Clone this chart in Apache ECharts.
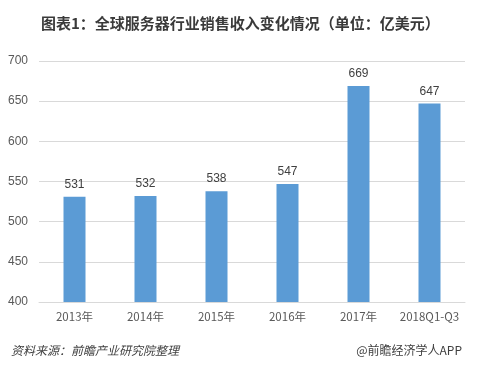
<!DOCTYPE html>
<html><head><meta charset="utf-8">
<script src="https://cdn.jsdelivr.net/npm/echarts@6/dist/echarts.min.js"></script>
<style>html,body{margin:0;padding:0;background:#fff}#c{width:477px;height:365px}</style>
</head><body><div id="c"></div>
<script>
const categories = ['2013年','2014年','2015年','2016年','2017年','2018Q1-Q3'];
const revenue = [531, 532, 538, 547, 669, 647];
const yTicks = [400, 450, 500, 550, 600, 650, 700];

const chart = echarts.init(document.getElementById('c'), null, {renderer:'canvas'});
chart.setOption({
  animation:false,
  backgroundColor:'#fff',
  title:[{
    text:'图表1：全球服务器行业销售收入变化情况（单位：亿美元）',
    left:36, top:11,
    textStyle:{fontSize:15, fontWeight:'bold', color:'#3a3a3a', fontFamily:'Noto Sans CJK SC'}
  },{
    text:'资料来源：前瞻产业研究院整理',
    left:6, top:339,
    textStyle:{fontSize:12, fontWeight:'normal', fontStyle:'italic', color:'#404040', fontFamily:'Noto Sans CJK SC'}
  },{
    text:'@前瞻经济学人APP',
    right:10, top:339,
    textStyle:{fontSize:12, fontWeight:'normal', color:'#404040', fontFamily:'Noto Sans CJK SC'}
  }],
  grid:{left:39, right:12, top:61, bottom:63, containLabel:false},
  xAxis:{
    type:'category', data:categories,
    axisLine:{show:true, lineStyle:{color:'#d9d9d9'}},
    axisTick:{show:false},
    axisLabel:{interval:0, color:'#595959', fontSize:11.5, margin:9, fontFamily:'Noto Sans CJK SC'}
  },
  yAxis:{
    type:'value', min:yTicks[0], max:yTicks[yTicks.length-1], interval:50,
    axisLine:{show:false}, axisTick:{show:false},
    axisLabel:{color:'#595959', fontSize:12, margin:11, fontFamily:'Liberation Sans'},
    splitLine:{lineStyle:{color:'#d9d9d9'}}
  },
  series:[{
    type:'bar', data:revenue, barWidth:22,
    itemStyle:{color:'#5b9bd5'},
    label:{show:true, position:'top', color:'#404040', fontSize:12, distance:6, fontFamily:'Liberation Sans'}
  }]
});
</script></body></html>
